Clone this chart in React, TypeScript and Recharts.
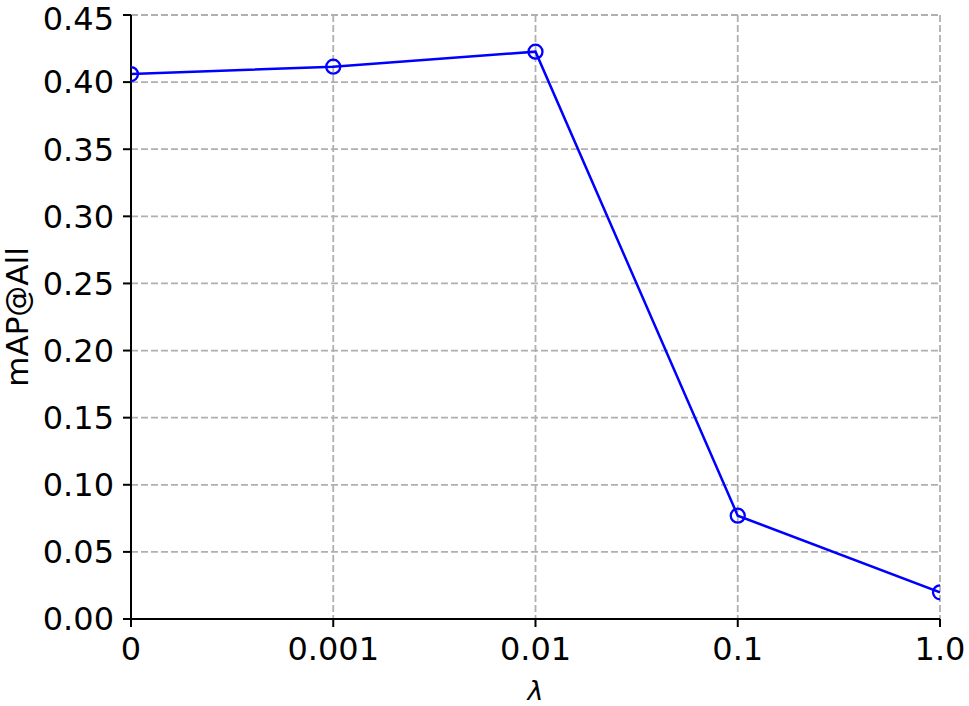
import { CartesianGrid, Line, LineChart, XAxis, YAxis } from 'recharts'

const lambdas = ['0', '0.001', '0.01', '0.1', '1.0']
const mapAll = [0.406, 0.4115, 0.4227, 0.077, 0.0199]
const yTicks = [0, 0.05, 0.1, 0.15, 0.2, 0.25, 0.3, 0.35, 0.4, 0.45]

const data = lambdas.map((l, i) => ({ lambda: l, map: mapAll[i] }))

const font = 'DejaVu Sans, sans-serif'
const tickStyle = { fill: '#000', fontSize: 32, fontFamily: font }

const YLabel = ({ viewBox }: any) => {
    const cx = viewBox.x + 17
    const cy = viewBox.y + viewBox.height / 2
    return (
        <text x={cx} y={cy} transform={`rotate(-90 ${cx} ${cy})`} textAnchor="middle" dominantBaseline="central" fontSize={31} fontFamily={font} fill="#000">
            mAP@All
        </text>
    )
}

const XLabel = ({ viewBox }: any) => {
    const cx = viewBox.x + viewBox.width / 2
    const cy = viewBox.y + 71
    return (
        <text x={cx} y={cy} textAnchor="middle" dominantBaseline="central" fontSize={27} fontFamily={font} fontStyle="italic" fill="#000">
            λ
        </text>
    )
}

const App = () => {
    return (
        <div style={{ position: 'absolute', left: 0, top: 0, background: '#fff' }}>
            <LineChart width={969} height={706} data={data} margin={{ top: 15, right: 29, left: 0, bottom: 0 }}>
                <CartesianGrid stroke="#b0b0b0" strokeDasharray="7 3" strokeWidth={1.8} />
                <XAxis
                    dataKey="lambda"
                    height={87}
                    allowDataOverflow
                    tick={tickStyle}
                    tickSize={8}
                    tickMargin={10}
                    axisLine={{ stroke: '#000', strokeWidth: 2 }}
                    tickLine={{ stroke: '#000', strokeWidth: 2 }}
                    label={{ content: XLabel }}
                />
                <XAxis xAxisId="top" dataKey="lambda" orientation="top" height={0} tick={false} tickLine={false} axisLine={{ stroke: '#000', strokeWidth: 2 }} />
                <YAxis
                    domain={[0, 0.45]}
                    ticks={yTicks}
                    width={131}
                    allowDataOverflow
                    tick={tickStyle}
                    tickSize={8}
                    tickMargin={9}
                    tickFormatter={(v: number) => v.toFixed(2)}
                    axisLine={{ stroke: '#000', strokeWidth: 2 }}
                    tickLine={{ stroke: '#000', strokeWidth: 2 }}
                    label={{ content: YLabel }}
                />
                <YAxis yAxisId="right" orientation="right" width={0} domain={[0, 0.45]} tick={false} tickLine={false} axisLine={{ stroke: '#000', strokeWidth: 2 }} />
                <Line
                    dataKey="map"
                    stroke="#0000ff"
                    strokeWidth={2.5}
                    dot={{ r: 7, stroke: '#0000ff', strokeWidth: 2.3, fill: 'none', clipDot: true }}
                    activeDot={false}
                    isAnimationActive={false}
                />
            </LineChart>
        </div>
    )
}

export default App
